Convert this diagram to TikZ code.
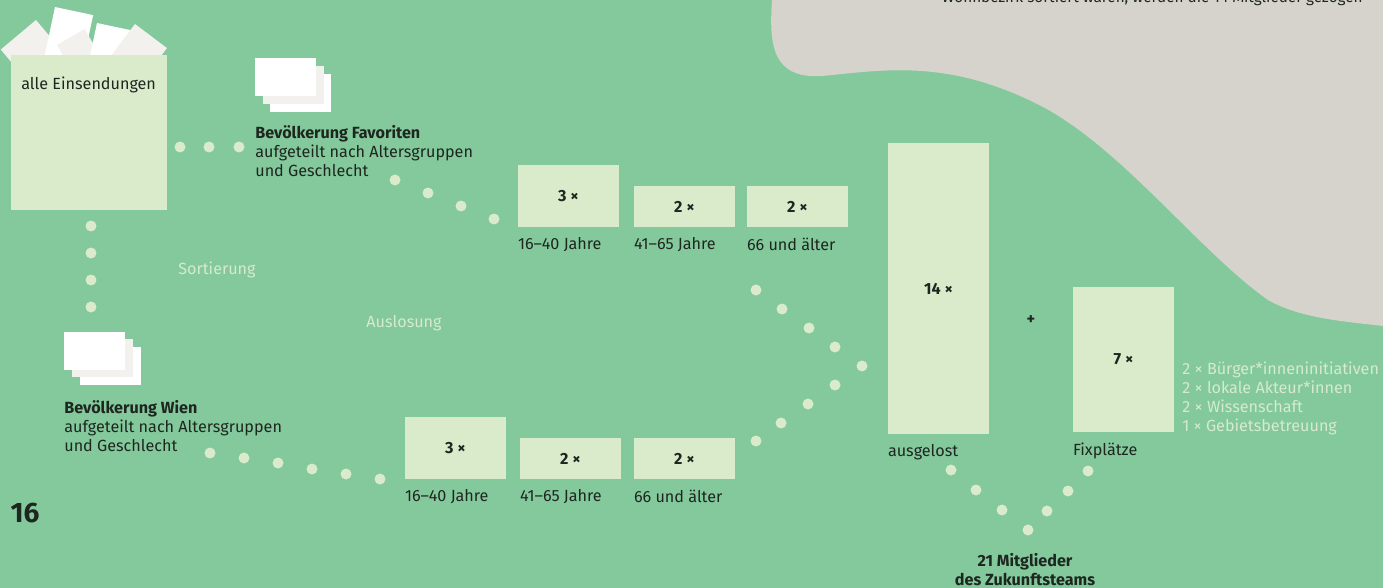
\documentclass[tikz,border=0pt]{standalone}
\usepackage{fontspec}
\setmainfont{Fira Sans}
\usetikzlibrary{positioning}
\definecolor{bggreen}{HTML}{83C99C}
\definecolor{boxgreen}{HTML}{DAEBCB}
\definecolor{greyland}{HTML}{D6D3CC}
\definecolor{paper}{HTML}{F2F1ED}
\definecolor{ink}{HTML}{1E2620}
\definecolor{pale}{HTML}{D5EBC9}

\begin{document}
\begin{tikzpicture}[
  x=0.02cm, y=-0.02cm,
  every node/.style={font=\fontsize{9.2}{10.8}\selectfont, text=ink, inner sep=0pt},
  slot/.style={fill=boxgreen, minimum width=2.02cm,
               font=\fontsize{9.2}{10.8}\selectfont\bfseries},
  small/.style={slot, minimum height=0.82cm},
  tall/.style={slot, minimum height=1.24cm},
  lbl/.style={anchor=north west},
  group/.style={anchor=north west, align=left},
  faint/.style={text=pale},
  dot/.style={fill=boxgreen},
]
  % page and grey corner
  \fill[bggreen] (0,0) rectangle (1383,588);
  \useasboundingbox (0,0) rectangle (1383,588);
  \fill[greyland] (772,0) .. controls (769,45) and (772,79) .. (822,76)
       .. controls (885,70) and (950,58) .. (1045,108)
       .. controls (1125,152) and (1200,252) .. (1268,300)
       .. controls (1300,318) and (1340,321) .. (1383,326)
       -- (1383,0) -- cycle;
  \begin{scope}
    \clip (0,0) rectangle (1383,588);
    \node[anchor=base east, font=\fontsize{8.7}{10.4}\selectfont] (note) at (1363,3)
         {Wohnbezirk sortiert waren, werden die 14 Mitglieder gezogen};
  \end{scope}

  % papers sticking out of the box
  \fill[paper, rotate around={-50:(36,20)}] (36,20) rectangle ++(42,46);
  \fill[white, rotate around={-12:(55,7)}] (55,7) rectangle ++(39,60);
  \fill[paper, rotate around={30:(57,45)}] (57,45) rectangle ++(32,30);
  \fill[white, rotate around={-12:(97,23)}] (97,23) rectangle ++(37,50);
  \fill[paper, rotate around={-37:(135,24)}] (135,24) rectangle ++(40,40);

  \node[fill=boxgreen, minimum width=3.12cm, minimum height=3.1cm] (all)
       at (89,132.5) {};
  \node[anchor=west] (allt) at (21,85) {alle Einsendungen};

  % Favoriten
  \fill[white] (270,74) rectangle (331,112);
  \fill[paper] (263,66) rectangle (324,104);
  \fill[white] (255,58) rectangle (316,96);
  \node[group] (fav) at (255,125)
       {\textbf{Bevölkerung Favoriten}\\aufgeteilt nach Altersgruppen\\und Geschlecht};

  \node[tall]  (f1) at (568.5,196)   {3 ×};
  \node[small] (f2) at (684.5,206.5) {2 ×};
  \node[small] (f3) at (797.5,206.5) {2 ×};
  \node[lbl, below=0.2cm of f1.south west, anchor=north west] (f1l) {16–40 Jahre};
  \node[lbl, below=0.2cm of f2.south west, anchor=north west] (f2l) {41–65 Jahre};
  \node[lbl, below=0.2cm of f3.south west, anchor=north west] (f3l) {66 und älter};

  % Wien
  \fill[white] (80,347) rectangle (141,385);
  \fill[paper] (72,339) rectangle (133,377);
  \fill[white] (64,332) rectangle (125,370);
  \node[group] (wien) at (64,400)
       {\textbf{Bevölkerung Wien}\\aufgeteilt nach Altersgruppen\\und Geschlecht};

  \node[tall]  (w1) at (455.5,448)   {3 ×};
  \node[small] (w2) at (570.5,458.5) {2 ×};
  \node[small] (w3) at (684.5,458.5) {2 ×};
  \node[lbl, below=0.2cm of w1.south west, anchor=north west] (w1l) {16–40 Jahre};
  \node[lbl, below=0.2cm of w2.south west, anchor=north west] (w2l) {41–65 Jahre};
  \node[lbl, below=0.2cm of w3.south west, anchor=north west] (w3l) {66 und älter};

  \node[faint] (sort) at (217,270) {Sortierung};
  \node[faint] (losung) at (404,323) {Auslosung};

  % team
  \node[slot, minimum height=5.82cm] (drawn) at (938.5,288.5) {14 ×};
  \node[font=\fontsize{9.2}{10.8}\selectfont\bfseries] (plus) at (1031,320) {+};
  \node[slot, minimum height=2.9cm] (fixed) at (1123.5,359.5) {7 ×};
  \node[lbl, below=0.2cm of drawn.south west, anchor=north west] (drawnl) {ausgelost};
  \node[lbl, below=0.2cm of fixed.south west, anchor=north west] (fixedl) {Fixplätze};
  \node[group, faint] (seats) at (1182,362)
       {2 × Bürger*inneninitiativen\\2 × lokale Akteur*innen\\2 × Wissenschaft\\1 × Gebietsbetreuung};
  \node[align=center, font=\fontsize{9.2}{10.8}\selectfont\bfseries] (team) at (1025,570)
       {21 Mitglieder\\des Zukunftsteams};

  \node[font=\fontsize{16}{18}\selectfont\bfseries] (page) at (25,513) {16};

  % dotted paths
  \foreach \p in {(180,147),(209,147),(239,147),
                  (395,180),(428,193),(461,206),(494,219),
                  (91,226),(91,253),(91,280),(91,307),
                  (210,453),(244,458),(278,463),(312,469),(346,474),(380,479),
                  (756,290),(782,309),(809,328),(835,347),(862,366),
                  (835,385),(808,404),(781,423),(756,441),
                  (951,470),(976,490),(1002,510),(1028,530),
                  (1047,511),(1068,491),(1088,471)}
    \fill[dot] \p circle (0.11cm);
\end{tikzpicture}
\end{document}
